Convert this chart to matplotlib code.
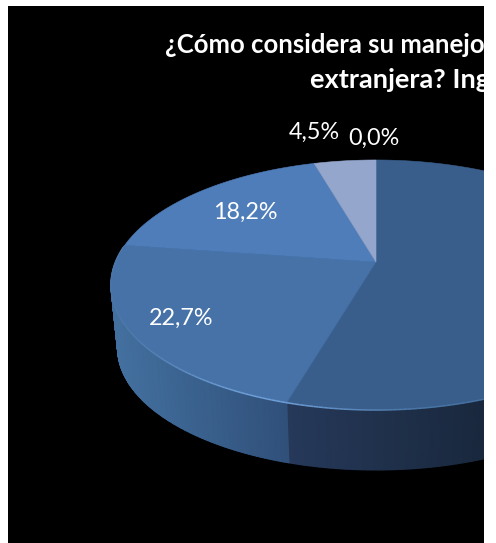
import numpy as np
import matplotlib
matplotlib.use("Agg")
import matplotlib.pyplot as plt
from matplotlib.patches import Polygon
from matplotlib.collections import LineCollection
from matplotlib.colors import to_rgb, LinearSegmentedColormap

# Data (clockwise from 12 o'clock)
categories = ["A", "B", "C", "D", "E"]
values = [54.5, 22.7, 18.2, 4.5, 0.0]
value_labels = ["54,5%", "22,7%", "18,2%", "4,5%", "0,0%"]
title_lines = ["¿Cómo considera su manejo", "extranjera? Ing"]

top_colors = ["#3A5E8C", "#4672A8", "#4E7DB9", "#94A6CC", "#B4C2DE"]
# wall colours: (colour at the 54,5/22,7 boundary, colour at the far end)
wall_colors = {0: ("#26395A", "#19283D"), 1: ("#30507A", "#43709F")}

W, H = 496, 543
CX, CY = 376.0, 262.0
A, M, K = 260.5, 120.8, 0.184
DEPTH, SHRINK = 63.7, 0.975
FONT = ["Lato", "DejaVu Sans"]

def project(t):
    u, v = np.sin(t), np.cos(t)
    d = 1 + K * v
    return A * u / d, M * v / d

def top_xy(t):
    X, Y = project(t)
    return CX + X, CY - Y

def low_xy(t):
    X, Y = project(t)
    return CX + X * SHRINK, CY - Y * SHRINK + DEPTH

fig = plt.figure(figsize=(W / 100, H / 100), dpi=100, facecolor="white")
ax = fig.add_axes([8 / W, 0, (484 - 8) / W, (H - 6) / H])
ax.set_xlim(8, 484)
ax.set_ylim(H, 6)
ax.axis("off")
ax.add_patch(plt.Rectangle((8, 6), 476, H - 6, color="black", zorder=0))

edges = 2 * np.pi * np.cumsum([0] + values) / sum(values)

# Side wall: smooth shading along the arc
for i, (c_near, c_far) in wall_colors.items():
    t0, t1 = edges[i], edges[i + 1]
    ts = np.linspace(t0, t1, 200)
    ux, uy = top_xy(ts)
    lx, ly = low_xy(ts)
    if i == 0:
        ts = ts[ts >= np.pi * 0.5]
        ux, uy = top_xy(ts)
        lx, ly = low_xy(ts)
        near = top_xy(edges[1])[0]
        frac = np.clip((near - ux) / (near - 484.0), 0, 1)
    else:
        near, far = top_xy(edges[1])[0], top_xy(np.pi * 1.5)[0]
        frac = np.clip((near - ux) / (near - far), 0, 1)
    cmap = LinearSegmentedColormap.from_list("wall", [c_near, c_far])
    ax.pcolormesh(np.vstack([ux, lx]), np.vstack([uy, ly]), np.vstack([frac, frac]),
                  cmap=cmap, vmin=0, vmax=1, shading="gouraud", zorder=2)

# Top face
for i in range(len(values)):
    if values[i] == 0:
        continue
    ts = np.linspace(edges[i], edges[i + 1], 200)
    x, y = top_xy(ts)
    pts = np.r_[[[CX, CY]], np.c_[x, y]]
    ax.add_patch(Polygon(pts, closed=True, facecolor=top_colors[i],
                         edgecolor=top_colors[i], lw=0.4, zorder=3))

# Rim highlight on the front edge
ts = np.linspace(np.pi * 0.75, edges[2] - 0.02, 160)
x, y = top_xy(ts)
segs = np.stack([np.c_[x[:-1], y[:-1]], np.c_[x[1:], y[1:]]], axis=1)
weight = np.exp(-((x[:-1] - 265) / 110) ** 2)
base, hi = np.array(to_rgb("#44709F")), np.array(to_rgb("#6F9FD8"))
cols = base[None, :] + (hi - base)[None, :] * weight[:, None]
ax.add_collection(LineCollection(segs, colors=cols, linewidths=1.1, zorder=4))

# Labels
label_kw = dict(color="white", family=FONT, fontsize=16.8, ha="center", va="center", zorder=6)
ax.text(181, 318, value_labels[1], **label_kw)
ax.text(245, 212, value_labels[2], **label_kw)
ax.text(314, 132, value_labels[3], **label_kw)
ax.text(374, 138, value_labels[4], **label_kw)

# Title, ending at the chart's right edge
title_kw = dict(color="white", family=FONT, fontweight="bold",
                ha="left", va="center", clip_on=True, zorder=6)
ax.text(165, 45, title_lines[0], fontsize=18.5, **title_kw)
ax.text(310, 80, title_lines[1], fontsize=19.6, **title_kw)

fig.savefig("out.png", dpi=100, facecolor="white")
